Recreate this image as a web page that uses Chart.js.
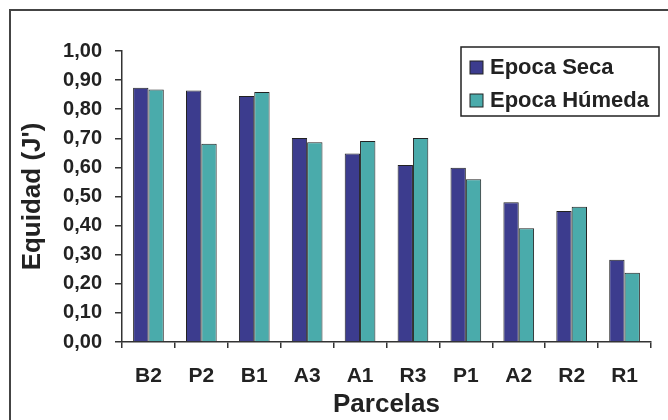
<!DOCTYPE html>
<html>
<head>
<meta charset="utf-8">
<script src="https://cdn.jsdelivr.net/npm/chart.js@4/dist/chart.umd.min.js"></script>
<style>
  html, body { margin: 0; padding: 0; background: #ffffff; }
  #wrap { width: 668px; height: 420px; position: relative; }
</style>
</head>
<body>
<div id="wrap"><canvas id="c" width="668" height="420"></canvas></div>
<script>
// Parcelas and their evenness index (J') for each season
const parcelas = ['B2', 'P2', 'B1', 'A3', 'A1', 'R3', 'P1', 'A2', 'R2', 'R1'];
const epocaSeca = [0.874, 0.864, 0.845, 0.701, 0.648, 0.608, 0.599, 0.480, 0.450, 0.283];
const epocaHumeda = [0.868, 0.681, 0.859, 0.686, 0.691, 0.701, 0.559, 0.391, 0.465, 0.238];
const yTicks = [0, 0.1, 0.2, 0.3, 0.4, 0.5, 0.6, 0.7, 0.8, 0.9, 1.0];

const FONT = '"Liberation Sans", Arial, Helvetica, sans-serif';
const INK = '#222222';
const AXIS = '#333333';

// Outer frame (top and left edges)
const framePlugin = {
  id: 'frame',
  beforeDraw(chart) {
    const ctx = chart.ctx;
    ctx.save();
    ctx.fillStyle = '#ffffff';
    ctx.fillRect(0, 0, chart.width, chart.height);
    ctx.strokeStyle = '#444444';
    ctx.lineWidth = 2;
    ctx.beginPath();
    ctx.moveTo(10, chart.height);
    ctx.lineTo(10, 10);
    ctx.lineTo(chart.width, 10);
    ctx.stroke();
    ctx.restore();
  }
};

// Boxed legend in the upper right corner
const boxLegend = {
  id: 'boxLegend',
  afterDraw(chart) {
    const ctx = chart.ctx;
    const x = 461, y = 47, w = 198, h = 69;
    ctx.save();
    ctx.fillStyle = '#ffffff';
    ctx.fillRect(x, y, w, h);
    ctx.strokeStyle = INK;
    ctx.lineWidth = 1.5;
    ctx.strokeRect(x, y, w, h);
    ctx.font = 'bold 22px ' + FONT;
    ctx.textBaseline = 'middle';
    chart.data.datasets.forEach((ds, i) => {
      const cy = y + 20 + i * 33;
      ctx.fillStyle = ds.backgroundColor;
      ctx.fillRect(x + 9, cy - 6, 13, 13);
      ctx.strokeStyle = INK;
      ctx.lineWidth = 1;
      ctx.strokeRect(x + 9, cy - 6, 13, 13);
      ctx.fillStyle = INK;
      ctx.fillText(ds.label, x + 29, cy + 1);
    });
    ctx.restore();
  }
};

new Chart(document.getElementById('c'), {
  type: 'bar',
  data: {
    labels: parcelas,
    datasets: [
      {
        label: 'Epoca Seca',
        data: epocaSeca,
        backgroundColor: '#3c3c8e',
        borderColor: INK,
        borderWidth: 1
      },
      {
        label: 'Epoca Húmeda',
        data: epocaHumeda,
        backgroundColor: '#4aabab',
        borderColor: INK,
        borderWidth: 1
      }
    ]
  },
  options: {
    responsive: false,
    animation: false,
    devicePixelRatio: 1,
    layout: { padding: { left: 0, right: 17, top: 51, bottom: 0 } },
    datasets: { bar: { categoryPercentage: 0.58, barPercentage: 1.0 } },
    plugins: {
      legend: { display: false },
      tooltip: { enabled: false }
    },
    scales: {
      x: {
        afterFit(scale) { scale.height = 78; },
        grid: {
          drawOnChartArea: false,
          drawTicks: true,
          tickLength: 6,
          color: AXIS,
          lineWidth: 1.5
        },
        border: { color: AXIS, width: 1.5 },
        ticks: {
          padding: 16,
          color: INK,
          font: { family: FONT, size: 21, weight: 'bold' }
        },
        title: {
          display: true,
          text: 'Parcelas',
          color: INK,
          padding: { top: 0, bottom: 0 },
          font: { family: FONT, size: 26, weight: 'bold' }
        }
      },
      y: {
        min: 0,
        max: 1,
        afterFit(scale) { scale.width = 122; },
        afterBuildTicks(scale) { scale.ticks = yTicks.map(v => ({ value: v })); },
        grid: {
          drawOnChartArea: false,
          drawTicks: true,
          tickLength: 7,
          color: AXIS,
          lineWidth: 1.5
        },
        border: { color: AXIS, width: 1.5 },
        ticks: {
          padding: 13,
          color: INK,
          font: { family: FONT, size: 20, weight: 'bold' },
          callback: (v) => Number(v).toFixed(2).replace('.', ',')
        },
        title: {
          display: true,
          text: "Equidad (J')",
          color: INK,
          padding: { top: 17, bottom: 0 },
          font: { family: FONT, size: 26, weight: 'bold' }
        }
      }
    }
  },
  plugins: [framePlugin, boxLegend]
});
</script>
</body>
</html>
